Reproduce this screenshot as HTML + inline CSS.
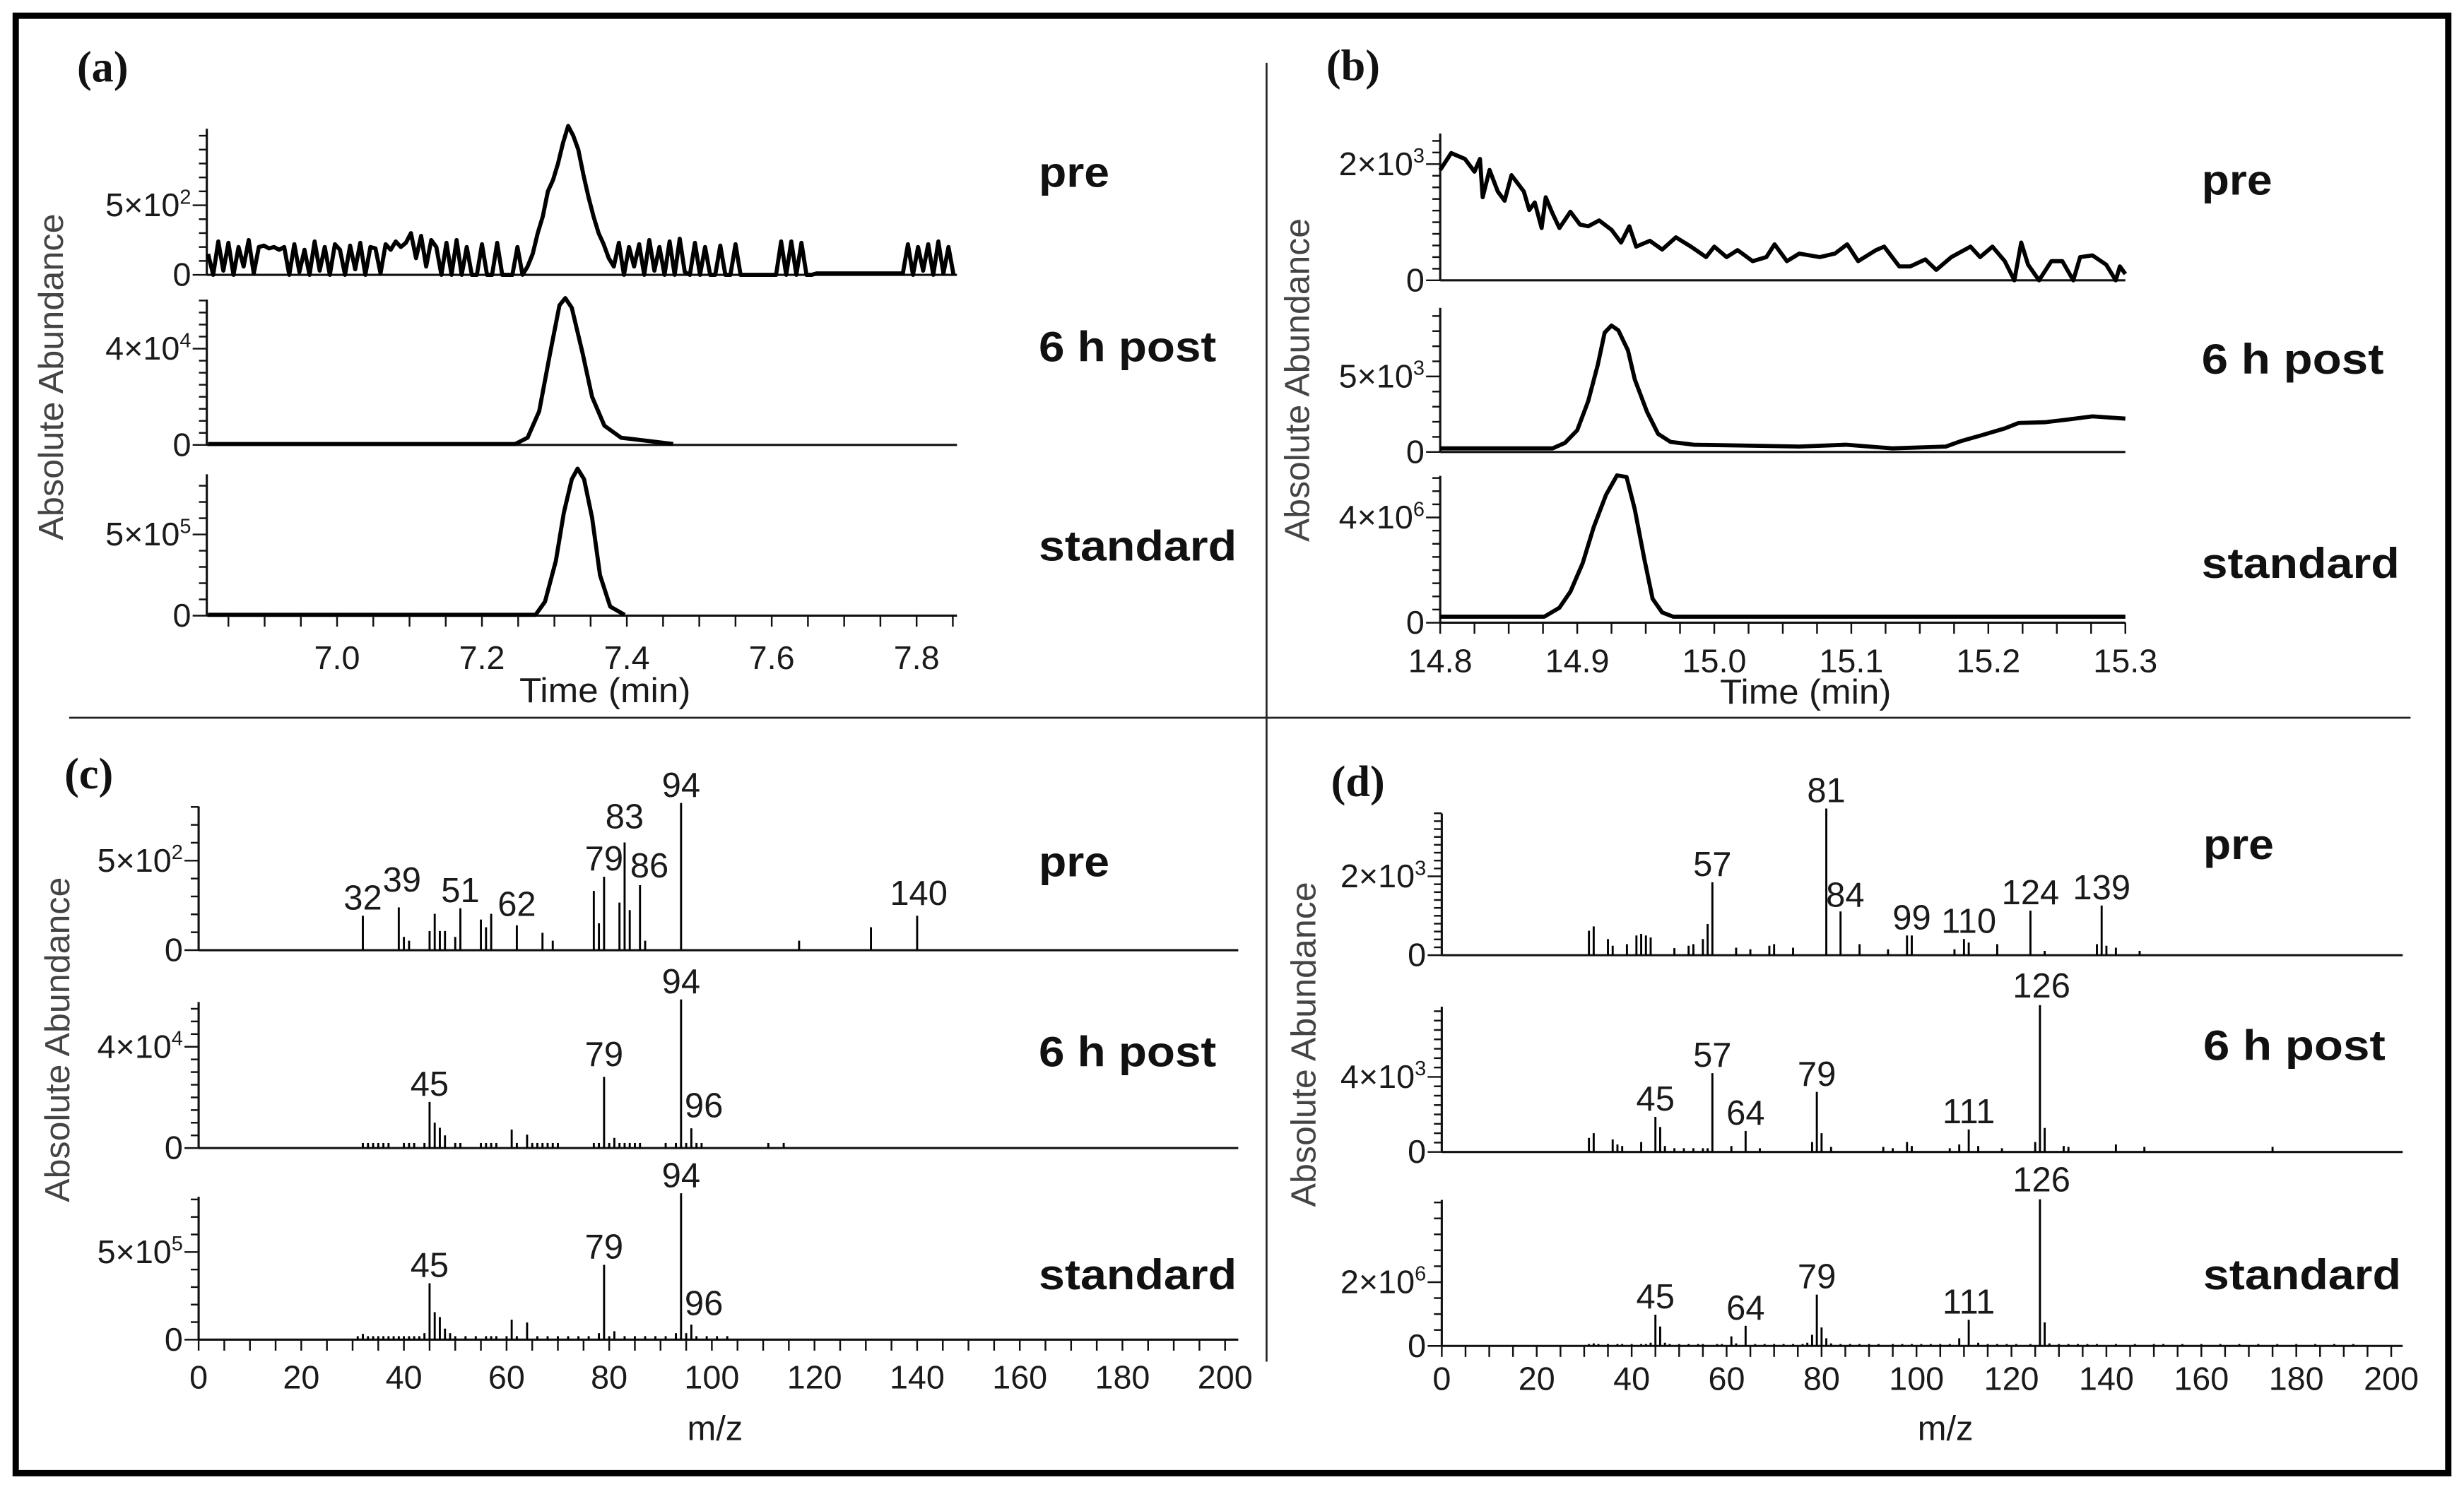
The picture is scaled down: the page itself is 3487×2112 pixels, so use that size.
<!DOCTYPE html>
<html><head><meta charset="utf-8"><title>Chromatograms and mass spectra</title>
<style>
html,body{margin:0;padding:0;background:#fff;}
svg{display:block;}
text{font-family:"Liberation Sans",Arial,sans-serif;fill:#1a1a1a;}
.pl{font-family:"Liberation Serif","Times New Roman",serif;font-weight:bold;font-size:28px;fill:#111;}
.cat{font-weight:bold;font-size:27px;fill:#111;}
.yt{font-size:22px;fill:#444;}
.tk{font-size:21px;}
.ttl{font-size:22px;}
</style></head>
<body>
<svg id="fig" xmlns="http://www.w3.org/2000/svg" width="3487" height="2112" viewBox="0 0 1568 950" preserveAspectRatio="none">
<rect x="10" y="10" width="1548" height="928" fill="none" stroke="#000" stroke-width="4"/>
<line x1="806" y1="40" x2="806" y2="867" stroke="#222" stroke-width="1.2"/>
<line x1="44" y1="457" x2="1534" y2="457" stroke="#222" stroke-width="1.2"/>
<g id="plots"></g>

<text class="pl" x="49" y="52">(a)</text>
<text class="pl" x="844" y="51">(b)</text>
<text class="pl" x="41" y="502">(c)</text>
<text class="pl" x="847" y="507">(d)</text>

<text class="cat" x="661" y="119" textLength="45" lengthAdjust="spacingAndGlyphs">pre</text>
<text class="cat" x="661" y="230" textLength="113" lengthAdjust="spacingAndGlyphs">6 h post</text>
<text class="cat" x="661" y="357" textLength="126" lengthAdjust="spacingAndGlyphs">standard</text>
<text class="cat" x="1401" y="124" textLength="45" lengthAdjust="spacingAndGlyphs">pre</text>
<text class="cat" x="1401" y="238" textLength="116" lengthAdjust="spacingAndGlyphs">6 h post</text>
<text class="cat" x="1401" y="368" textLength="126" lengthAdjust="spacingAndGlyphs">standard</text>
<text class="cat" x="661" y="558" textLength="45" lengthAdjust="spacingAndGlyphs">pre</text>
<text class="cat" x="661" y="679" textLength="113" lengthAdjust="spacingAndGlyphs">6 h post</text>
<text class="cat" x="661" y="821" textLength="126" lengthAdjust="spacingAndGlyphs">standard</text>
<text class="cat" x="1402" y="547" textLength="45" lengthAdjust="spacingAndGlyphs">pre</text>
<text class="cat" x="1402" y="675" textLength="116" lengthAdjust="spacingAndGlyphs">6 h post</text>
<text class="cat" x="1402" y="821" textLength="126" lengthAdjust="spacingAndGlyphs">standard</text>

<text class="yt" transform="translate(40,240) rotate(-90)" text-anchor="middle" textLength="208" lengthAdjust="spacingAndGlyphs">Absolute Abundance</text>
<text class="yt" transform="translate(833,242) rotate(-90)" text-anchor="middle" textLength="206" lengthAdjust="spacingAndGlyphs">Absolute Abundance</text>
<text class="yt" transform="translate(44,662) rotate(-90)" text-anchor="middle" textLength="207" lengthAdjust="spacingAndGlyphs">Absolute Abundance</text>
<text class="yt" transform="translate(837,665) rotate(-90)" text-anchor="middle" textLength="207" lengthAdjust="spacingAndGlyphs">Absolute Abundance</text>

<text class="ttl" x="385" y="447" text-anchor="middle" textLength="109" lengthAdjust="spacingAndGlyphs">Time (min)</text>
<text class="ttl" x="1149" y="448" text-anchor="middle" textLength="109" lengthAdjust="spacingAndGlyphs">Time (min)</text>
<text class="ttl" x="455" y="917" text-anchor="middle">m/z</text>
<text class="ttl" x="1238" y="917" text-anchor="middle">m/z</text>
</svg>
<script>
// ---------- data ----------
const aPreStart = 6.822, aPreStep = 0.007;
const aPreValues = [150,0,240,30,230,0,200,60,250,10,
 200,210,190,200,180,200,
 0,220,20,180,0,240,30,200,0,220,180,0,210,40,230,0,200,190,10,220,180,240,200,230,
 300,120,280,60,250,200,
 0,230,0,250,0,200,
 0,0,220,0,0,230,0,0,0,200,0,
 60,150,300,420,600,680,800,950,1070,1000,900,720,560,420,300,220,120,60,
 230,0,200,60,220,0,250,30,200,0,240,0,260,20,0,230,0,200,0,
 0,210,0,0,220,0,0,0,0,0,0,0,0,
 240,0,240,0,230,0,0,
 10,10,10,10,10,10,10,10,10,10,10,10,10,10,10,10,10,10,
 220,0,200,30,220,0,240,10,200,0,230,200];
const aPostTimes = [6.822,7.246,7.263,7.279,7.294,7.307,7.315,7.324,7.339,7.352,7.369,7.392,7.431,7.464,7.857];
const aPostValues = [0.04,0.04,0.3,1.4,3.8,5.8,6.1,5.7,3.8,2.0,0.8,0.3,0.16,0.04,0.04];
const aStdTimes = [6.822,7.274,7.287,7.302,7.313,7.324,7.332,7.341,7.352,7.363,7.377,7.397,7.857];
const aStdValues = [0.05,0.05,0.86,3.37,6.33,8.4,9.05,8.4,6.04,2.49,0.56,0.05,0.05];
const bPreTimes = [14.800,14.808,14.818,14.825,14.829,14.831,14.836,14.842,14.847,14.852,14.861,14.865,14.869,14.874,14.877,14.882,14.887,14.895,14.902,14.908,14.916,14.925,14.932,14.938,14.943,14.953,14.962,14.972,14.983,14.994,15.000,15.009,15.017,15.028,15.038,15.044,15.053,15.062,15.077,15.088,15.097,15.105,15.118,15.124,15.135,15.143,15.154,15.162,15.173,15.187,15.194,15.203,15.212,15.219,15.224,15.229,15.237,15.246,15.254,15.262,15.267,15.276,15.286,15.293,15.296,15.300];
const bPreValues = [1.9,2.19,2.09,1.87,2.09,1.43,1.9,1.53,1.37,1.81,1.53,1.21,1.34,0.9,1.43,1.15,0.9,1.18,0.96,0.93,1.03,0.87,0.65,0.93,0.58,0.68,0.53,0.74,0.58,0.40,0.58,0.40,0.52,0.33,0.40,0.62,0.33,0.46,0.40,0.46,0.62,0.33,0.52,0.58,0.24,0.24,0.36,0.18,0.40,0.58,0.40,0.58,0.33,0,0.65,0.27,0,0.33,0.33,0,0.40,0.43,0.27,0,0.24,0.11];
const bPostTimes = [14.800,14.882,14.891,14.900,14.908,14.915,14.920,14.925,14.930,14.937,14.942,14.951,14.959,14.968,14.985,15.019,15.062,15.096,15.130,15.169,15.180,15.194,15.212,15.222,15.241,15.259,15.276,15.289,15.300];
const bPostValues = [0.24,0.24,0.6,1.44,3.37,5.77,7.9,8.37,8.05,6.73,4.8,2.64,1.2,0.67,0.48,0.43,0.36,0.48,0.24,0.36,0.72,1.08,1.56,1.92,1.97,2.16,2.36,2.28,2.21];
const bStdTimes = [14.800,14.876,14.887,14.895,14.904,14.912,14.921,14.929,14.936,14.942,14.949,14.955,14.962,14.970,15.300];
const bStdValues = [0.23,0.23,0.57,1.18,2.27,3.63,4.86,5.6,5.54,4.31,2.41,0.91,0.39,0.23,0.23];
const cPreMz  = [32,39,40,41,45,46,47,48,50,51,55,56,57,62,67,69,77,78,79,82,83,84,86,87,94,117,131,140];
const cPreVal = [192,239,74,53,107,203,107,107,74,234,171,128,203,139,97,53,331,150,410,266,602,224,363,53,822,53,128,192];
const cPostMz  = [32,33,34,35,36,37,40,41,42,44,45,46,47,48,50,51,55,56,57,58,61,62,64,65,66,67,68,69,70,77,78,79,80,81,82,83,84,85,86,91,93,94,95,96,97,98,111,114];
const cPostVal = [0.2,0.2,0.2,0.2,0.2,0.2, 0.2,0.2,0.2,0.2, 1.82,1.0,0.8,0.5, 0.2,0.2, 0.2,0.2,0.2,0.2, 0.73,0.2, 0.53,0.2,0.2,0.2,0.2,0.2,0.2, 0.2,0.2,2.81,0.2,0.4,0.2,0.2,0.2,0.2,0.2, 0.2,0.2,5.87,0.2,0.78,0.2,0.2, 0.2,0.2];
const cStdMz  = [31,32,33,34,35,36,37,38,39,40,41,42,43,44,45,46,47,48,49,50,52,54,56,57,58,60,61,62,64,66,68,70,72,74,76,78,79,80,81,83,85,87,89,91,93,94,95,96,97,99,101,103];
const cStdVal = [0.2,0.33,0.2,0.2,0.2,0.2,0.2,0.2,0.2,0.2, 0.2,0.2,0.2,0.37,3.22,1.57,1.29,0.63,0.37,0.2, 0.2,0.2,0.2,0.2,0.2,0.2,1.14,0.2,0.98,0.2, 0.2,0.2,0.2,0.2,0.2,0.37,4.27,0.2,0.48,0.2, 0.2,0.2,0.2,0.2,0.37,8.35,0.37,0.86,0.2,0.2, 0.2,0.2];
const dPreMz  = [31,32,35,36,39,41,42,43,44,49,52,53,55,56,57,62,65,69,70,74,81,84,88,94,98,99,108,110,111,117,124,127,138,139,140,142,147];
const dPreVal = [0.62,0.73,0.41,0.24,0.28,0.5,0.54,0.5,0.45,0.18, 0.24,0.28,0.41,0.79,1.85,0.19,0.15,0.24,0.28,0.19, 3.72,1.11,0.28,0.15,0.5,0.5,0.15,0.41,0.32,0.28, 1.13,0.11,0.28,1.26,0.24,0.19,0.11];
const dPostMz  = [31,32,36,37,38,42,45,46,47,49,51,53,55,56,57,61,64,67,78,79,80,82,93,95,98,99,107,109,111,113,118,125,126,127,131,132,142,148,175];
const dPostVal = [0.75,1.0,0.67,0.4,0.32,0.53,1.87,1.33,0.32,0.2, 0.2,0.2,0.2,0.2,4.2,0.32,1.12,0.2,0.53,3.2, 1.0,0.27,0.27,0.2,0.53,0.32,0.2,0.4,1.2,0.32, 0.2,0.53,7.82,1.28,0.32,0.27,0.4,0.27,0.27];
const dStdMz  = [31,32,33,35,37,38,40,42,43,44,45,46,47,48,50,52,54,55,58,59,61,62,64,66,68,70,72,74,76,77,78,79,80,81,82,84,86,88,90,92,95,97,99,101,103,105,107,109,111,113,115,117,119,121,124,126,127,128,130,132,134,136,138,142,146,150,152,156,160,164,168,172,176,180,184,188,192];
const dStdVal = [0.06,0.08,0.06,0.06,0.06,0.06,0.06,0.06,0.06,0.1, 0.98,0.61,0.1,0.06,0.06,0.06,0.06,0.06,0.06,0.06, 0.3,0.08,0.63,0.06,0.06,0.06,0.06,0.06,0.06,0.1, 0.35,1.61,0.58,0.24,0.08,0.06,0.06,0.06,0.06,0.06, 0.06,0.06,0.06,0.06,0.06,0.06,0.06,0.24,0.82,0.1, 0.06,0.06,0.06,0.06,0.06,4.6,0.74,0.08,0.06,0.06, 0.06,0.06,0.06,0.06,0.06,0.06,0.06,0.06,0.06,0.06, 0.06,0.06,0.06,0.06,0.06,0.06,0.06];
const cPreLabels = [32,39,51,62,79,83,86,94,140];
const cPostLabels = [45,79,94,96];
const cStdLabels = [45,79,94,96];
const dPreLabels = [57,81,84,99,110,124,139];
const dPostLabels = [45,57,64,79,111,126];
const dStdLabels = [45,64,79,111,126];
const aTickLabels = ["7.0","7.2","7.4","7.6","7.8"];
const bTickLabels = ["14.8","14.9","15.0","15.1","15.2","15.3"];
const mzTickLabels = ["0","20","40","60","80","100","120","140","160","180","200"];

// ---------- drawing ----------
const NS = "http://www.w3.org/2000/svg";
const root = document.getElementById("plots");
function mk(tag, attrs, parent) {
  const el = document.createElementNS(NS, tag);
  for (const k in attrs) el.setAttribute(k, attrs[k]);
  (parent || root).appendChild(el);
  return el;
}
function linScale(d0, p0, d1, p1) { return v => p0 + (v - d0) * (p1 - p0) / (d1 - d0); }
const panels = {
  a: {x: linScale(7.0, 214.5, 7.8, 583.3), ax0: 131.6, ax1: 609},
  b: {x: linScale(14.8, 916.5, 15.3, 1352.5), ax0: 916.5, ax1: 1352.5},
  c: {x: linScale(0, 126.4, 200, 779.6), ax0: 126.4, ax1: 788},
  d: {x: linScale(0, 917.5, 200, 1521.7), ax0: 917.5, ax1: 1529}
};
function subplot(p, name, base, tickPix, tickVal, top, minor, mant, expo) {
  const P = panels[p];
  const y = linScale(0, base, tickVal, tickPix);
  const g = mk("g", {});
  
  
  const ya = mk("line", {x1: P.ax0, y1: top, x2: P.ax0, y2: base, stroke: "#111", "stroke-width": 1.4}, g);
  
  
  const xa = mk("line", {x1: P.ax0, y1: base, x2: P.ax1, y2: base, stroke: "#111", "stroke-width": 1.4}, g);
  
  
  for (let v = 0; y(v) >= top - 0.5; v += minor) {
    const vv = Math.round(v / minor) * minor;
    const major = Math.abs(vv - tickVal) < minor / 10 || vv === 0;
    const t = mk("line", {x1: P.ax0 - (major ? 9 : 5), y1: y(vv), x2: P.ax0, y2: y(vv), stroke: "#111", "stroke-width": 1.1}, g);
    
    
  }
  const lt = mk("text", {x: P.ax0 - 10, y: tickPix + 7, "text-anchor": "end", "class": "tk"}, g);
  
  
  lt.appendChild(document.createTextNode(mant + "\u00d710"));
  const sup = mk("tspan", {dy: -8, "font-size": 13}, lt);
  sup.textContent = expo;
  const zt = mk("text", {x: P.ax0 - 10, y: base + 7, "text-anchor": "end", "class": "tk"}, g);
  
  
  zt.textContent = "0";
  return {g, x: P.x, y, P, base};
}
function chrom(sp, name, times, vals) {
  const pts = [];
  for (let i = 0; i < times.length; i++) {
    const px = sp.x(times[i]);
    if (px < sp.P.ax0 - 0.01 || px > sp.P.ax1 + 0.01) continue;
    pts.push(px.toFixed(2) + "," + sp.y(vals[i]).toFixed(2));
  }
  const pl = mk("polyline", {points: pts.join(" "), fill: "none", stroke: "#000", "stroke-width": 2.6, "stroke-linejoin": "round"}, sp.g);
  
  
}
function spectrum(sp, name, mz, vals, labels, offs) {
  for (let i = 0; i < mz.length; i++) {
    const b = mk("line", {x1: sp.x(mz[i]), y1: sp.base, x2: sp.x(mz[i]), y2: sp.y(vals[i]), stroke: "#000", "stroke-width": 1.3}, sp.g);
    
    
  }
  labels.forEach(m => {
    const i = mz.indexOf(m);
    const o = offs[m] || [0, 4];
    const t = mk("text", {x: sp.x(m) + o[0], y: sp.y(vals[i]) - o[1], "text-anchor": "middle", "font-size": 22}, sp.g);
    
    
    t.textContent = String(m);
  });
}
function xTicks(p, name, base, from, to, step, labelVals, labelTexts, labelY) {
  const P = panels[p];
  const n = Math.round((to - from) / step);
  for (let k = 0; k <= n; k++) {
    const v = from + k * step;
    const t = mk("line", {x1: P.x(v), y1: base, x2: P.x(v), y2: base + 7, stroke: "#111", "stroke-width": 1.1});
    
    
  }
  labelVals.forEach((v, i) => {
    const t = mk("text", {x: P.x(v), y: labelY, "text-anchor": "middle", "class": "tk"});
    
    
    t.textContent = labelTexts[i];
  });
}

const aPreTimes = aPreValues.map((_, i) => aPreStart + i * aPreStep);
let s;
s = subplot("a", "a-pre", 175, 130.7, 500, 82, 100, "5", "2");
chrom(s, "a-pre-trace", aPreTimes, aPreValues);
s = subplot("a", "a-6h-post", 283.3, 222, 4, 190.7, 0.5, "4", "4");
chrom(s, "a-6h-post-trace", aPostTimes, aPostValues);
s = subplot("a", "a-standard", 392, 340.3, 5, 302, 1, "5", "5");
chrom(s, "a-standard-trace", aStdTimes, aStdValues);
xTicks("a", "a", 392, 6.85, 7.85, 0.05, [7.0,7.2,7.4,7.6,7.8], aTickLabels, 426);

s = subplot("b", "b-pre", 178.5, 104.5, 2, 85, 0.2, "2", "3");
chrom(s, "b-pre-trace", bPreTimes, bPreValues);
s = subplot("b", "b-6h-post", 287.8, 239.7, 5, 196, 1, "5", "3");
chrom(s, "b-6h-post-trace", bPostTimes, bPostValues);
s = subplot("b", "b-standard", 396.5, 329.5, 4, 303, 0.5, "4", "6");
chrom(s, "b-standard-trace", bStdTimes, bStdValues);
xTicks("b", "b", 396.5, 14.8, 15.3, 0.025, [14.8,14.9,15.0,15.1,15.2,15.3], bTickLabels, 428);

s = subplot("c", "c-pre", 605, 548, 500, 513.5, 100, "5", "2");
spectrum(s, "c-pre", cPreMz, cPreVal, cPreLabels, {83: [0, 9], 39: [2, 10], 86: [6, 5], 140: [1, 7], 62: [0, 6]});
s = subplot("c", "c-6h-post", 731, 666.5, 4, 638, 0.5, "4", "4");
spectrum(s, "c-6h-post", cPostMz, cPostVal, cPostLabels, {96: [8, 7], 79: [0, 7]});
s = subplot("c", "c-standard", 853, 797.2, 5, 762, 1, "5", "5");
spectrum(s, "c-standard", cStdMz, cStdVal, cStdLabels, {96: [8, 6]});
xTicks("c", "c", 853, 0, 200, 5, [0,20,40,60,80,100,120,140,160,180,200], mzTickLabels, 884);

s = subplot("d", "d-pre", 608.2, 558, 2, 518, 0.2, "2", "3");
spectrum(s, "d-pre", dPreMz, dPreVal, dPreLabels, {84: [3, 3], 110: [3, 4]});
s = subplot("d", "d-6h-post", 733.5, 685.7, 4, 641, 0.5, "4", "3");
spectrum(s, "d-6h-post", dPostMz, dPostVal, dPostLabels, {126: [1, 5]});
s = subplot("d", "d-standard", 857, 816.4, 2, 764, 0.5, "2", "6");
spectrum(s, "d-standard", dStdMz, dStdVal, dStdLabels, {126: [1, 5]});
xTicks("d", "d", 857, 0, 200, 5, [0,20,40,60,80,100,120,140,160,180,200], mzTickLabels, 885);
</script>
</body></html>
